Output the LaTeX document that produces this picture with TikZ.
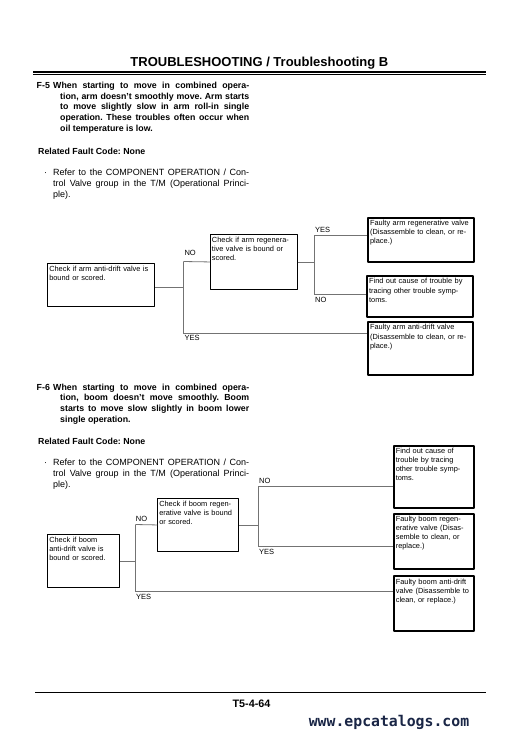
\documentclass[tikz,border=0pt]{standalone}
\usepackage{fontspec}
\setmainfont{Liberation Sans}
\newfontfamily\webfont{DejaVu Sans Mono}
\usetikzlibrary{calc}
\frenchspacing
\definecolor{linkgray}{gray}{0.45}
\definecolor{webblue}{RGB}{26,38,70}
\tikzset{
  chkbox/.style={draw=black, line width=0.9pt, anchor=north west, inner sep=1.5pt, align=left, text height=6pt, font=\fontsize{7.4}{9.1}\selectfont},
  endbox/.style={chkbox, line width=1.8pt, inner xsep=2.2pt, inner ysep=2pt},
  link/.style={draw=linkgray, line width=0.8pt},
  yesno/.style={anchor=west, inner sep=0pt, font=\fontsize{7.5}{9}\selectfont},
  para/.style={anchor=base west, inner sep=0pt, align=justify, font=\fontsize{8.8}{10.7}\selectfont\bfseries},
  note/.style={anchor=base west, inner sep=0pt, align=justify, font=\fontsize{9}{11}\selectfont}
}
\newcommand\jline[1]{\makebox[\linewidth][s]{#1}\\}
\newcommand\jfirst[1]{\hspace*{-7pt}\makebox[\dimexpr\linewidth+7pt\relax][s]{#1}\\}
\begin{document}
\begin{tikzpicture}[x=1pt,y=-1pt,line join=round]
  \fill[white] (0,0) rectangle (521,738);
  \useasboundingbox (0,0) rectangle (521,738);
  % page head
  \node[anchor=base, inner sep=0pt, font=\fontsize{13}{15}\selectfont\bfseries] (head) at (259.4,66.7) {TROUBLESHOOTING / Troubleshooting B};
  \draw[line width=1.3pt] (33,72) -- (486,72);
  \draw[line width=0.7pt] (33,74.6) -- (486,74.6);
  % F-5
  \node[para] (f5) at (36.5,88.5) {F-5};
  \node[para, text width=189pt] (f5text) at (60,88.5) {%
    \jfirst{When starting to move in combined opera-}
    \jline{tion, arm doesn’t smoothly move. Arm starts}
    \jline{to move slightly slow in arm roll-in single}
    \jline{operation. These troubles often occur when}
    oil temperature is low.};
  \node[para] (f5code) at (38,154.5) {Related Fault Code: None};
  \node[note] (f5dot) at (44,175.5) {·};
  \node[note, text width=196pt] (f5note) at (53,175.5) {%
    \jline{Refer to the COMPONENT OPERATION / Con-}
    \jline{trol Valve group in the T/M (Operational Princi-}
    ple).};
  % F-5 chart
  \node[chkbox, text width=103.7pt, text depth=33.4pt] (armdrift) at (47.3,263.3) {Check if arm anti-drift valve is\\bound or scored.};
  \node[chkbox, text width=83.7pt, text depth=45.4pt] (armregen) at (210,234.3) {Check if arm regenera-\\tive valve is bound or\\scored.};
  \node[endbox, text width=101.9pt, text depth=34.3pt] (armregenbad) at (367,216.7) {Faulty arm regenerative valve\\(Disassemble to clean, or re-\\place.)};
  \node[endbox, text width=101.9pt, text depth=31pt] (armother) at (366,275) {Find out cause of trouble by\\tracing other trouble symp-\\toms.};
  \node[endbox, text width=100.6pt, text depth=43pt] (armdriftbad) at (367,321) {Faulty arm anti-drift valve\\(Disassemble to clean, or re-\\place.)};
  \coordinate (armsplit) at (183.3,287.3);
  \coordinate (armno) at (183.3,261.5);
  \coordinate (armyes) at (183.3,333.3);
  \coordinate (regenyes) at (314,235.7);
  \coordinate (regenno) at (314,294.3);
  \draw[link] (armdrift.east |- armsplit) -- (armsplit);
  \draw[link] (armno) -- (armyes);
  \draw[link] (armno) -- (armregen.west);
  \draw[link] (armyes) -- (armyes -| armdriftbad.west);
  \draw[link] (armregen.east) -- (armregen.east -| regenyes);
  \draw[link] (regenyes) -- (regenno);
  \draw[link] (regenyes) -- (regenyes -| armregenbad.west);
  \draw[link] (regenno) -- (regenno -| armother.west);
  \node[yesno] (armnolbl) at (184.3,253.3) {NO};
  \node[yesno] (armyeslbl) at (184.3,337.7) {YES};
  \node[yesno] (regenyeslbl) at (315,230) {YES};
  \node[yesno] (regennolbl) at (315,300) {NO};
  % F-6
  \node[para] (f6) at (36.5,390) {F-6};
  \node[para, text width=189pt] (f6text) at (60,390) {%
    \jfirst{When starting to move in combined opera-}
    \jline{tion, boom doesn’t move smoothly. Boom}
    \jline{starts to move slow slightly in boom lower}
    single operation.};
  \node[para] (f6code) at (38,444) {Related Fault Code: None};
  \node[note] (f6dot) at (44,465.5) {·};
  \node[note, text width=196pt] (f6note) at (53,465.5) {%
    \jline{Refer to the COMPONENT OPERATION / Con-}
    \jline{trol Valve group in the T/M (Operational Princi-}
    ple).};
  % F-6 chart
  \node[chkbox, text width=69pt, text depth=43.4pt] (boomdrift) at (47.3,534.3) {Check if boom\\anti-drift valve is\\bound or scored.};
  \node[chkbox, text width=77.7pt, text depth=43.4pt] (boomregen) at (157.3,498.3) {Check if boom regen-\\erative valve is bound\\or scored.};
  \node[endbox, text width=75.6pt, text depth=52pt] (boomother) at (392.7,444.7) {Find out cause of\\trouble by tracing\\other trouble symp-\\toms.};
  \node[endbox, text width=75.6pt, text depth=45pt] (boomregenbad) at (392.7,512.7) {Faulty boom regen-\\erative valve (Disas-\\semble to clean, or\\replace.)};
  \node[endbox, text width=75.6pt, text depth=44.7pt] (boomdriftbad) at (392.7,575.3) {Faulty boom anti-drift\\valve (Disassemble to\\clean, or replace.)};
  \coordinate (boomno) at (135.3,524.5);
  \coordinate (boomyes) at (135.3,591);
  \coordinate (bregenno) at (258.5,486);
  \coordinate (bregenyes) at (258.5,546.7);
  \draw[link] (boomdrift.east) -- (boomdrift.east -| boomno);
  \draw[link] (boomno) -- (boomyes);
  \draw[link] (boomno) -- (boomregen.west);
  \draw[link] (boomyes) -- (boomyes -| boomdriftbad.west);
  \draw[link] (boomregen.east) -- (boomregen.east -| bregenno);
  \draw[link] (bregenno) -- (bregenyes);
  \draw[link] (bregenno) -- (bregenno -| boomother.west);
  \draw[link] (bregenyes) -- (bregenyes -| boomregenbad.west);
  \node[yesno] (boomnolbl) at (135.7,519.3) {NO};
  \node[yesno] (boomyeslbl) at (136,597.3) {YES};
  \node[yesno] (bregennolbl) at (259,480.7) {NO};
  \node[yesno] (bregenyeslbl) at (259,552) {YES};
  % page foot
  \draw[line width=0.9pt] (35,692.3) -- (486,692.3);
  \node[anchor=base, inner sep=0pt, font=\fontsize{10.8}{12}\selectfont\bfseries] (pageno) at (251.5,707) {T5-4-64};
  \node[anchor=base, inner sep=0pt, text=webblue, font=\fontsize{14.8}{16}\selectfont\webfont\bfseries] (web) at (389,726) {www.epcatalogs.com};
\end{tikzpicture}
\end{document}
